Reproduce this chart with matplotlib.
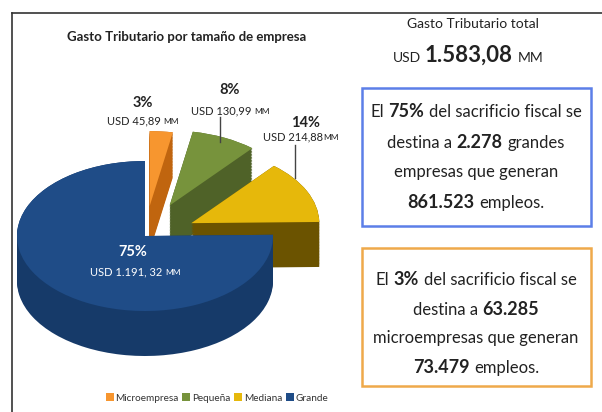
import matplotlib.pyplot as plt
from matplotlib.patches import Rectangle
from matplotlib.lines import Line2D

W, H = 602, 412
FONT = ['Lato', 'DejaVu Sans']
plt.rcParams['font.family'] = FONT

categorias = ['Microempresa', 'Pequeña', 'Mediana', 'Grande']
usd_mm = [45.89, 130.99, 214.88, 1191.32]
porcentajes = ['3%', '8%', '14%', '75%']
usd_labels = ['USD 45,89', 'USD 130,99', 'USD 214,88', 'USD 1.191, 32']
total_label = '1.583,08'
grandes_n, grandes_empleos = '2.278', '861.523'
micro_n, micro_empleos = '63.285', '73.479'

colores = ['#F7962F', '#77933C', '#E6B80B', '#1F4C87']
lados = ['#C0650F', '#4F6228', '#6B5300', '#163A69']
explode = [0.4, 0.45, 0.4, 0]


def fx(x):
    return x / W


def fy(y):
    return 1 - y / H


fig = plt.figure(figsize=(W / 100, H / 100), dpi=100)
ax = fig.add_axes([0, 0, 1, 1])

# pie centre / radii in pixels (ellipse for the tilted look)
cx, cy, rx, ry = 145, 236, 128, 75
depth = 0.6
n = 30
for k in range(n + 1):
    off = -depth * (1 - k / n)
    ws, _ = ax.pie(usd_mm, explode=explode, startangle=90, counterclock=False,
                   colors=lados, center=(0, off), wedgeprops=dict(linewidth=0))
    for i, w in enumerate(ws):
        w.set_zorder(i * 10 + 1 + k * 0.01)
top, _ = ax.pie(usd_mm, explode=explode, startangle=90, counterclock=False,
                colors=colores, wedgeprops=dict(linewidth=0))
for i, w in enumerate(top):
    w.set_zorder(i * 10 + 5)

ax.set_aspect('auto')
ax.set_xlim(-cx / rx, (W - cx) / rx)
ax.set_ylim(-(H - cy) / ry, cy / ry)
ax.axis('off')

ax.legend(top, categorias, loc='center', bbox_to_anchor=(fx(217), fy(398)),
          ncol=4, frameon=False, fontsize=7.2, handlelength=0.8, handleheight=0.8,
          columnspacing=0.4, handletextpad=0.15, labelcolor='#333')

renderer = fig.canvas.get_renderer()


def space_w(size, bold):
    w = 'bold' if bold else 'normal'
    a = fig.text(0, 0, 'a a', fontsize=size, fontweight=w)
    b = fig.text(0, 0, 'aa', fontsize=size, fontweight=w)
    d = a.get_window_extent(renderer).width - b.get_window_extent(renderer).width
    a.remove()
    b.remove()
    return d


def rich(x, y, chunks, color='#222'):
    texts, widths = [], []
    for s, size, bold, gap in chunks:
        t = fig.text(0, 0, s, fontsize=size, color=color, va='baseline',
                     fontweight='bold' if bold else 'normal', zorder=60)
        wd = t.get_window_extent(renderer).width
        if gap:
            wd += space_w(size, False)
        texts.append(t)
        widths.append(wd)
    x0 = x - sum(widths) / 2
    for t, wd in zip(texts, widths):
        t.set_position((fx(x0), fy(y)))
        x0 += wd


# frame
fig.add_artist(Line2D([fx(12), 1], [fy(13), fy(13)], color='#333', lw=1.2))
fig.add_artist(Line2D([fx(12), fx(12)], [fy(13), 0], color='#333', lw=1.2))

fig.text(fx(187), fy(41), 'Gasto Tributario por tamaño de empresa', fontsize=9.5,
         fontweight='bold', ha='center', va='baseline', color='#222')

# pie labels
pct_pos = [(143, 107), (230, 94), (306, 127), (133, 256)]
usd_pos = [(143, 124), (230, 114), (301, 140), (135, 275)]
for i in range(4):
    c = 'white' if i == 3 else '#222'
    rich(pct_pos[i][0], pct_pos[i][1], [(porcentajes[i], 10.5, True, False)], color=c)
    rich(usd_pos[i][0], usd_pos[i][1],
         [(usd_labels[i], 8, False, i != 2), ('MM', 6, False, False)], color=c)

fig.add_artist(Line2D([fx(220), fx(220)], [fy(117), fy(142)], color='#444', lw=1))
fig.add_artist(Line2D([fx(295), fx(295)], [fy(145), fy(178)], color='#444', lw=1))

# right side
rich(473, 28, [('Gasto Tributario total', 10, False, False)])
rich(468, 62, [('USD', 10, False, True), (total_label, 16, True, True), ('MM', 10, False, False)])

fig.add_artist(Rectangle((fx(362), fy(226)), (591 - 362) / W, (226 - 88) / H,
                         transform=fig.transFigure, fill=False, edgecolor='#5C7FE8', lw=1.8))
fig.add_artist(Rectangle((fx(362), fy(386)), (591 - 362) / W, (386 - 248) / H,
                         transform=fig.transFigure, fill=False, edgecolor='#EFA94A', lw=1.8))

S, B = 12, 13
rich(476, 117, [('El', S, False, True), (porcentajes[3], B, True, True), ('del sacrificio fiscal se', S, False, False)])
rich(476, 148, [('destina a', S, False, True), (grandes_n, B, True, True), ('grandes', S, False, False)])
rich(476, 177, [('empresas que generan', S, False, False)])
rich(476, 208, [(grandes_empleos, B, True, True), ('empleos.', S, False, False)])

rich(476, 285, [('El', S, False, True), (porcentajes[0], B, True, True), ('del sacrificio fiscal se', S, False, False)])
rich(476, 315, [('destina a', S, False, True), (micro_n, B, True, False)])
rich(476, 343, [('microempresas que generan', S, False, False)])
rich(476, 373, [(micro_empleos, B, True, True), ('empleos.', S, False, False)])

fig.savefig('out.png', dpi=100)
